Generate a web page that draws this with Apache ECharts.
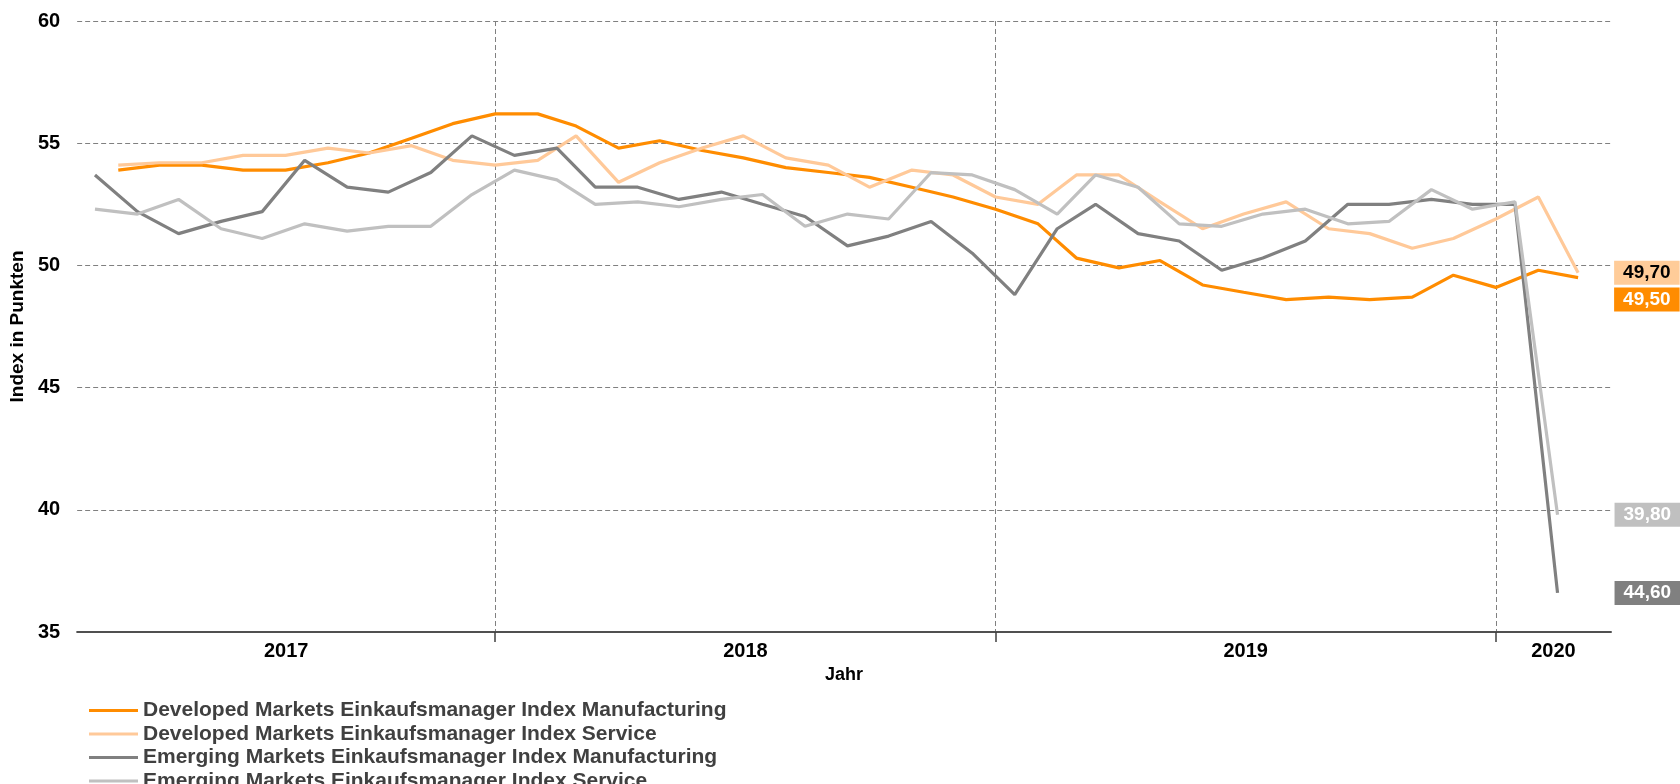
<!DOCTYPE html>
<html lang="de">
<head>
<meta charset="UTF-8">
<title>Einkaufsmanager Index</title>
<script src="https://cdn.jsdelivr.net/npm/echarts@6/dist/echarts.min.js"></script>
<style>
    html, body { margin: 0; padding: 0; background: #fff; overflow: hidden; }
    #chart { width: 1680px; height: 784px; }
</style>
</head>
<body>
<div id="chart"></div>
<script>
    // Monate Mär 2017 bis Mär 2020
    var months = [
        '2017-03', '2017-04', '2017-05', '2017-06', '2017-07', '2017-08', '2017-09', '2017-10', '2017-11', '2017-12',
        '2018-01', '2018-02', '2018-03', '2018-04', '2018-05', '2018-06', '2018-07', '2018-08', '2018-09', '2018-10', '2018-11', '2018-12',
        '2019-01', '2019-02', '2019-03', '2019-04', '2019-05', '2019-06', '2019-07', '2019-08', '2019-09', '2019-10', '2019-11', '2019-12',
        '2020-01', '2020-02', '2020-03'
    ];
    var years = ['2017', '2018', '2019', '2020'];
    var yearStarts = ['2018-01-01', '2019-01-01', '2020-01-01'];

    var seriesNames = [
        'Developed Markets Einkaufsmanager Index Manufacturing',
        'Developed Markets Einkaufsmanager Index Service',
        'Emerging Markets Einkaufsmanager Index Manufacturing',
        'Emerging Markets Einkaufsmanager Index Service'
    ];

    // Apr 2017 - Mär 2020 (Monatsanfang)
    var dmManufacturing = [53.9, 54.1, 54.1, 53.9, 53.9, 54.2, 54.6, 55.2, 55.8, 56.2, 56.2, 55.7,
        54.8, 55.1, 54.7, 54.4, 54.0, 53.8, 53.6, 53.2, 52.8, 52.3, 51.7, 50.3,
        49.9, 50.2, 49.2, 48.9, 48.6, 48.7, 48.6, 48.7, 49.6, 49.1, 49.8, 49.5];
    var dmService = [54.1, 54.2, 54.2, 54.5, 54.5, 54.8, 54.6, 54.9, 54.3, 54.1, 54.3, 55.3,
        53.4, 54.2, 54.8, 55.3, 54.4, 54.1, 53.2, 53.9, 53.7, 52.8, 52.5, 53.7,
        53.7, 52.6, 51.5, 52.1, 52.6, 51.5, 51.3, 50.7, 51.1, 51.9, 52.8, 49.7];
    // Mär 2017 - Feb 2020 (Monatsmitte)
    var emManufacturing = [53.7, 52.2, 51.3, 51.8, 52.2, 54.3, 53.2, 53.0, 53.8, 55.3, 54.5, 54.8,
        53.2, 53.2, 52.7, 53.0, 52.5, 52.0, 50.8, 51.2, 51.8, 50.5, 48.8, 51.5,
        52.5, 51.3, 51.0, 49.8, 50.3, 51.0, 52.5, 52.5, 52.7, 52.5, 52.5, 36.6];
    var emService = [52.3, 52.1, 52.7, 51.5, 51.1, 51.7, 51.4, 51.6, 51.6, 52.9, 53.9, 53.5,
        52.5, 52.6, 52.4, 52.7, 52.9, 51.6, 52.1, 51.9, 53.8, 53.7, 53.1, 52.1,
        53.7, 53.2, 51.7, 51.6, 52.1, 52.3, 51.7, 51.8, 53.1, 52.3, 52.6, 39.8];

    var endTexts = ['49,50', '49,70', '44,60', '39,80'];

    function toDate(s) {
        var p = s.split('-');
        return new Date(+p[0], +p[1] - 1, +p[2]).getTime();
    }

    var dmDates = months.slice(1).map(function (m) { return toDate(m + '-01'); });
    var emDates = months.slice(0, 36).map(function (m) { return toDate(m + '-15'); });

    var xMin = toDate('2017-03-02');
    var xMax = toDate('2020-03-25');

    // Jahreslabels mittig im sichtbaren Teil des Jahres
    var yearCenters = years.map(function (y) {
        var a = Math.max(xMin, toDate(y + '-01-01'));
        var b = Math.min(xMax, toDate((+y + 1) + '-01-01'));
        return (a + b) / 2;
    });

    function pairs(dates, values) {
        return dates.map(function (d, i) { return [d, values[i]]; });
    }

    var colors = ['#ff8c00', '#ffc999', '#808080', '#c0c0c0'];
    var labelColors = ['#ffffff', '#000000', '#ffffff', '#ffffff'];
    var labelBg = ['#ff8c00', '#ffcc99', '#808080', '#c0c0c0'];
    var labelDistance = [36, 36, 57, 57];
    var labelOffsetY = [22, 0, 0, 0];
    var seriesData = [
        pairs(dmDates, dmManufacturing),
        pairs(dmDates, dmService),
        pairs(emDates, emManufacturing),
        pairs(emDates, emService)
    ];

    var font = '"Liberation Sans", Arial, sans-serif';
    var chart = echarts.init(document.getElementById('chart'));

    var option = {
        animation: false,
        color: colors,
        textStyle: { fontFamily: font },
        grid: { left: 77, right: 69, top: 21, bottom: 152, containLabel: false },
        legend: {
            orient: 'vertical',
            left: 84,
            top: 695,
            height: 120,
            icon: 'rect',
            itemWidth: 49,
            itemHeight: 3,
            itemGap: 2.5,
            textStyle: { fontSize: 21, fontWeight: 'bold', color: '#404040', lineHeight: 20, fontFamily: font },
            data: seriesNames
        },
        xAxis: {
            type: 'value',
            min: xMin,
            max: xMax,
            name: 'Jahr',
            nameLocation: 'middle',
            nameGap: 34,
            nameTextStyle: { fontSize: 18, fontWeight: 'bold', color: '#000', fontFamily: font },
            axisLine: { show: true, lineStyle: { color: '#505050', width: 2 } },
            axisTick: {
                show: true,
                length: 10,
                customValues: yearStarts.map(toDate),
                lineStyle: { color: '#404040', width: 1.5 }
            },
            axisLabel: {
                customValues: yearCenters,
                margin: 9,
                fontSize: 20,
                fontWeight: 'bold',
                color: '#000',
                fontFamily: font,
                formatter: function (v) { return String(new Date(v).getFullYear()); }
            },
            splitLine: {
                show: true,
                lineStyle: { color: '#808080', type: [5, 3], width: 1 }
            }
        },
        yAxis: {
            type: 'value',
            min: 35,
            max: 60,
            interval: 5,
            name: 'Index in Punkten',
            nameLocation: 'middle',
            nameGap: 39,
            nameTextStyle: { fontSize: 19, fontWeight: 'bold', color: '#000', fontFamily: font },
            axisLine: { show: false },
            axisTick: { show: false },
            axisLabel: { margin: 17, fontSize: 20, fontWeight: 'bold', color: '#000', fontFamily: font },
            splitLine: { show: true, lineStyle: { color: '#808080', type: [5, 3], width: 1 } }
        },
        series: seriesNames.map(function (name, i) {
            return {
                name: name,
                type: 'line',
                data: seriesData[i],
                symbol: 'none',
                lineStyle: { width: 3.2, color: colors[i] },
                endLabel: {
                    show: true,
                    formatter: endTexts[i],
                    distance: labelDistance[i],
                    offset: [0, labelOffsetY[i]],
                    fontSize: 19,
                    fontWeight: 'bold',
                    fontFamily: font,
                    color: labelColors[i],
                    backgroundColor: labelBg[i],
                    padding: [3, 9, 2, 9]
                }
            };
        })
    };
    chart.setOption(option);
</script>
</body>
</html>
